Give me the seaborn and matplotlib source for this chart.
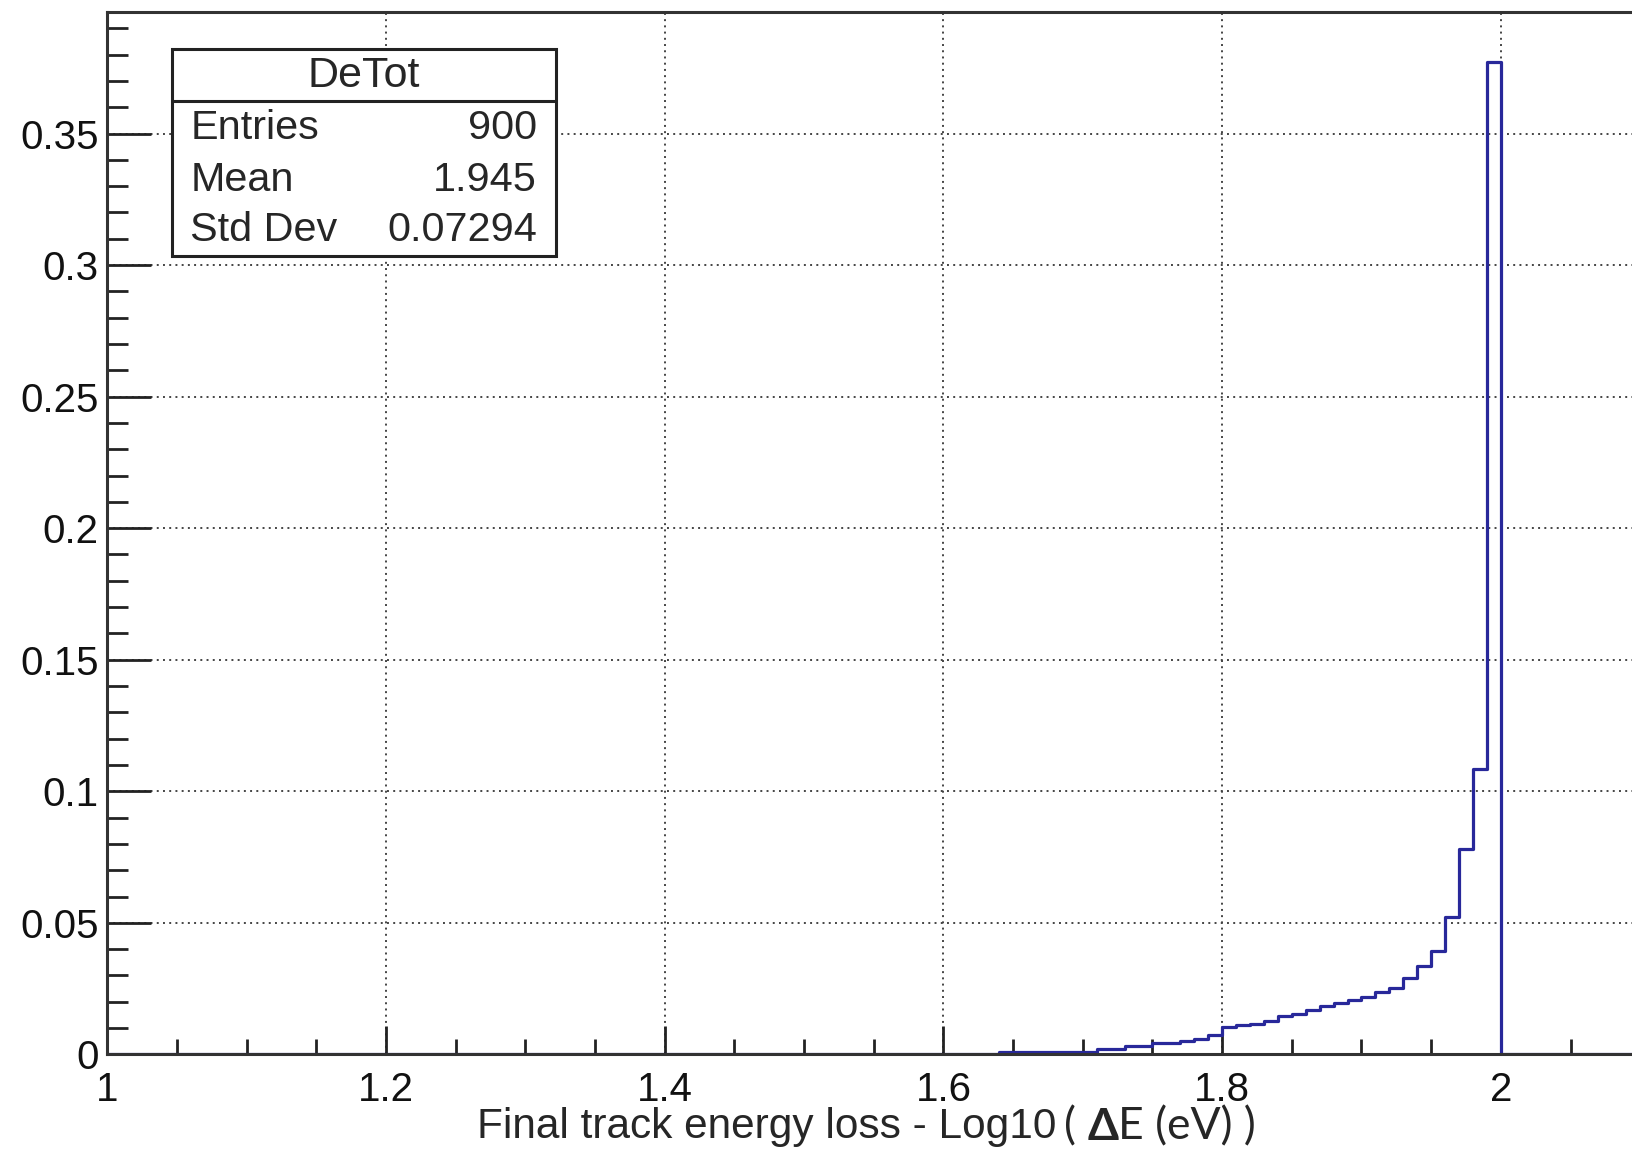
import numpy as np
import pandas as pd
import matplotlib
matplotlib.use("Agg")
import matplotlib.pyplot as plt
from matplotlib.ticker import MultipleLocator
import seaborn as sns

# ---- data ----
bin_width = 0.01
first_bin = 1.64
bin_values = [0.0011, 0.0011, 0.0011, 0.0011, 0.0011, 0.0011, 0.0011,
              0.0022, 0.0022, 0.0033, 0.0033, 0.0044, 0.0044, 0.0050,
              0.0060, 0.0075, 0.0103, 0.0113, 0.0116, 0.0127, 0.0146,
              0.0155, 0.0168, 0.0184, 0.0197, 0.0206, 0.0220, 0.0238,
              0.0254, 0.0292, 0.0336, 0.0393, 0.0523, 0.0780, 0.1085,
              0.3770]
hist_range = (1.0, 2.2)
x_ticks = [1.0, 1.2, 1.4, 1.6, 1.8, 2.0]
x_tick_labels = ["1", "1.2", "1.4", "1.6", "1.8", "2"]
y_ticks = [0, 0.05, 0.1, 0.15, 0.2, 0.25, 0.3, 0.35]
y_tick_labels = ["0", "0.05", "0.1", "0.15", "0.2", "0.25", "0.3", "0.35"]
stats_title = "DeTot"
stats_names = ["Entries", "Mean", "Std Dev"]
stats_values = ["900", "1.945", "0.07294"]
xlabel_main = "Final track energy loss - Log10"

# ---- build the table ----
n_bins = int(round((hist_range[1] - hist_range[0]) / bin_width))
edges = [float(v) for v in hist_range[0] + bin_width * np.arange(n_bins + 1)]
centers = [0.5 * (a + b) for a, b in zip(edges[:-1], edges[1:])]
weights = np.zeros(n_bins)
start = int(round((first_bin - hist_range[0]) / bin_width))
weights[start:start + len(bin_values)] = bin_values
df = pd.DataFrame({"x": centers, "w": weights})

sns.set_theme(style="white")
plt.rcParams["font.family"] = ["Liberation Sans", "DejaVu Sans"]

fig = plt.figure(figsize=(16.32, 11.52), dpi=100)
ax = fig.add_axes([107.2 / 1632, 97.6 / 1152, 1 - 107.2 / 1632, (1054.4 - 12.5) / 1152])

line_color = "#28289a"
sns.histplot(data=df, x="x", weights="w", bins=edges, element="step", fill=False,
             color=line_color, linewidth=2.3, ax=ax)

ax.set_xlim(1.0, 2.0941)
ax.set_ylim(0, 0.396)
ax.set_xlabel("")
ax.set_ylabel("")

ax.set_xticks(x_ticks)
ax.set_xticklabels(x_tick_labels)
ax.set_yticks(y_ticks)
ax.set_yticklabels(y_tick_labels)
ax.xaxis.set_minor_locator(MultipleLocator(0.05))
ax.yaxis.set_minor_locator(MultipleLocator(0.01))

ax.tick_params(axis="both", which="both", direction="in", colors="#222222",
               labelcolor="#111111", labelsize=29, width=2,
               bottom=True, left=True, top=False, right=False)
ax.tick_params(axis="y", which="major", length=32, pad=6)
ax.tick_params(axis="y", which="minor", length=15)
ax.tick_params(axis="x", which="major", length=20, pad=12)
ax.tick_params(axis="x", which="minor", length=11)

ax.grid(True, which="major", linestyle=(0, (1, 2.2)), color="#444444", linewidth=1.4)
ax.set_axisbelow(True)

for side in ["left", "bottom", "top"]:
    ax.spines[side].set_visible(True)
    ax.spines[side].set_color("#333333")
    ax.spines[side].set_linewidth(2.2)
ax.spines["right"].set_visible(False)

# ---- stats box ----
W, H = 1632.0, 1152.0
bx0, bx1, by0, by1, bsep = 171.7, 555.8, 48.9, 256.0, 101.0
box = plt.Rectangle((bx0 / W, 1 - by1 / H), (bx1 - bx0) / W, (by1 - by0) / H,
                    transform=fig.transFigure, facecolor="white",
                    edgecolor="#222222", linewidth=2.2, zorder=10)
fig.patches.append(box)
fig.add_artist(plt.Line2D([bx0 / W, bx1 / W], [1 - bsep / H, 1 - bsep / H],
                          transform=fig.transFigure, color="#222222",
                          linewidth=2.2, zorder=11))
fig.text((bx0 + bx1) / 2 / W, 1 - 76 / H, stats_title, ha="center", va="center",
         fontsize=31, zorder=12)
row_y = [128, 180, 230]
for name, val, yy in zip(stats_names, stats_values, row_y):
    fig.text(190.5 / W, 1 - yy / H, name, ha="left", va="center", fontsize=29.8, zorder=12)
    fig.text(537 / W, 1 - yy / H, val, ha="right", va="center", fontsize=29.8, zorder=12)

# ---- x label (two fonts) ----
ylab = 1 - 1127 / H
t1 = fig.text(477 / W, ylab, xlabel_main, ha="left", va="center", fontsize=30.5)
fig.canvas.draw()
r = fig.canvas.get_renderer()
x_next = 1064 / W
t2 = fig.text(x_next, ylab, "( ", ha="left", va="center", fontsize=32,
              family=["Lato", "DejaVu Sans"])
bb = t2.get_window_extent(r)
t3 = fig.text(bb.x1 / W, ylab, "\u0394", ha="left", va="center", fontsize=32,
              fontweight="bold", family=["Lato", "DejaVu Sans"])
bb = t3.get_window_extent(r)
fig.text(bb.x1 / W, ylab, "E (eV) )", ha="left", va="center", fontsize=32,
         family=["Lato", "DejaVu Sans"])

fig.savefig("out.png", dpi=100)
